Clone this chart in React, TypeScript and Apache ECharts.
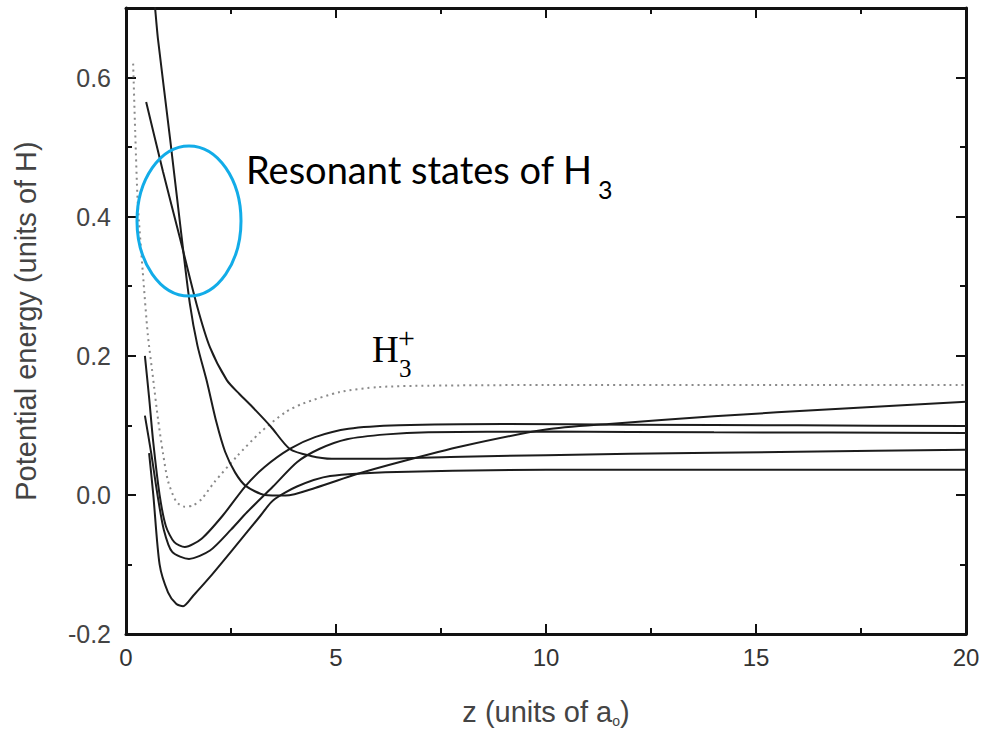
import React, { useEffect, useRef } from "react";
import * as echarts from "echarts";

// ---- data ----
const xTicks = [0, 5, 10, 15, 20];
const yTicks = [-0.2, 0.0, 0.2, 0.4, 0.6];

// H3+ (dotted)
const h3pZ = [0.17, 0.22, 0.28, 0.4, 0.52, 0.64, 0.76, 0.88, 1.0, 1.2, 1.4, 1.6, 1.8, 2.1, 2.65, 3.2, 3.8, 4.2, 5.1, 6.0, 7.2, 10, 15, 20];
const h3pV = [0.62, 0.52, 0.42, 0.32, 0.23, 0.17, 0.11, 0.06, 0.02, -0.01, -0.017, -0.015, -0.006, 0.018, 0.056, 0.09, 0.119, 0.131, 0.148, 0.155, 0.157, 0.158, 0.158, 0.158];

// steep resonant curve (ends rising)
const tZ = [0.62, 0.69, 0.76, 1.05, 1.33, 1.52, 1.7, 1.93, 2.15, 2.36, 2.6, 2.85, 3.3, 3.8, 4.5, 5.5, 6.5, 8, 10, 11.5, 14, 17, 20];
const tV = [0.75, 0.702, 0.656, 0.512, 0.368, 0.275, 0.215, 0.162, 0.105, 0.062, 0.032, 0.013, 0.0, -0.001, 0.01, 0.03, 0.047, 0.07, 0.094, 0.102, 0.113, 0.124, 0.134];

// second resonant curve (with shoulder)
const uZ = [0.48, 0.88, 1.29, 1.69, 2.0, 2.4, 2.7, 3.0, 3.45, 3.9, 4.4, 4.9, 6, 8, 12, 16, 20];
const uV = [0.565, 0.465, 0.368, 0.272, 0.212, 0.165, 0.145, 0.127, 0.098, 0.066, 0.056, 0.052, 0.052, 0.055, 0.059, 0.062, 0.065];

// bound curves
const l1Z = [0.45, 0.55, 0.65, 0.8, 0.95, 1.15, 1.4, 1.8, 2.3, 2.85, 3.3, 3.9, 4.5, 5.3, 6.5, 9, 12, 16, 20];
const l1V = [0.2, 0.14, 0.075, 0.0, -0.045, -0.068, -0.075, -0.063, -0.03, 0.013, 0.04, 0.066, 0.083, 0.095, 0.1, 0.102, 0.101, 0.1, 0.099];

const l2Z = [0.45, 0.6, 0.75, 0.9, 1.1, 1.5, 2.0, 2.5, 2.88, 3.5, 4.07, 4.6, 5.26, 6.2, 7.2, 10, 14, 20];
const l2V = [0.114, 0.06, 0.0, -0.05, -0.082, -0.092, -0.08, -0.05, -0.025, 0.012, 0.047, 0.066, 0.08, 0.087, 0.09, 0.091, 0.09, 0.089];

const l3Z = [0.55, 0.65, 0.8, 1.0, 1.2, 1.36, 1.6, 2.0, 2.55, 3.2, 3.5, 4.07, 4.86, 6.45, 10, 15, 20];
const l3V = [0.06, 0.0, -0.1, -0.14, -0.157, -0.16, -0.145, -0.118, -0.078, -0.03, -0.008, 0.012, 0.027, 0.033, 0.036, 0.036, 0.036];

const pairs = (z: number[], v: number[]) => z.map((x, i) => [x, v[i]]);

const axisFont = '"Liberation Sans", Arial, sans-serif';

export default function App() {
  const ref = useRef<HTMLDivElement>(null);
  useEffect(() => {
    if (!ref.current) return;
    const chart = echarts.init(ref.current, null, { renderer: "svg" });
    const solid = (name: string, z: number[], v: number[]) => ({
      name,
      type: "line",
      data: pairs(z, v),
      showSymbol: false,
      smooth: 0.25,
      lineStyle: { color: "#1c1c1c", width: 2 },
      clip: true,
    });
    const axisLine = { show: true, onZero: false, lineStyle: { color: "#111", width: 3 } };
    const tick = { show: true, inside: true, length: 10, lineStyle: { color: "#111", width: 2 } };
    const minor = { show: true, splitNumber: 2, length: 6, lineStyle: { color: "#111", width: 2 } };
    chart.setOption({
      animation: false,
      backgroundColor: "#fff",
      grid: { left: 126, right: 17, top: 8, bottom: 98, containLabel: false },
      xAxis: [
        {
          type: "value",
          min: 0,
          max: 20,
          interval: 5,
          axisLine,
          axisTick: tick,
          minorTick: minor,
          splitLine: { show: false },
          axisLabel: {
            margin: 11,
            fontSize: 24,
            color: "#333",
            fontFamily: axisFont,
            formatter: (v: number) => (xTicks.includes(v) ? String(v) : ""),
          },
          name: "z (units of a{sub|o})",
          nameLocation: "middle",
          nameGap: 62,
          nameTextStyle: {
            fontSize: 29,
            color: "#444",
            fontFamily: axisFont,
            rich: { sub: { fontSize: 14, color: "#444", fontFamily: axisFont, padding: [18, 0, 0, 0] } },
          },
        },
        {
          type: "value",
          position: "top",
          min: 0,
          max: 20,
          interval: 5,
          axisLine,
          axisTick: tick,
          minorTick: minor,
          splitLine: { show: false },
          axisLabel: { show: false },
        },
      ],
      yAxis: [
        {
          type: "value",
          min: -0.2,
          max: 0.7,
          interval: 0.2,
          axisLine,
          axisTick: tick,
          minorTick: minor,
          splitLine: { show: false },
          axisLabel: {
            margin: 15,
            fontSize: 25,
            color: "#444",
            fontFamily: axisFont,
            formatter: (v: number) => {
              const hit = yTicks.find((t) => Math.abs(t - v) < 1e-6);
              return hit === undefined ? "" : hit.toFixed(1);
            },
          },
          name: "Potential energy (units of H)",
          nameLocation: "middle",
          nameGap: 86,
          nameTextStyle: { fontSize: 29, color: "#444", fontFamily: axisFont },
        },
        {
          type: "value",
          position: "right",
          min: -0.2,
          max: 0.7,
          interval: 0.2,
          axisLine,
          axisTick: tick,
          minorTick: minor,
          splitLine: { show: false },
          axisLabel: { show: false },
        },
      ],
      series: [
        {
          name: "H3+",
          type: "line",
          data: pairs(h3pZ, h3pV),
          showSymbol: false,
          smooth: 0.25,
          clip: true,
          lineStyle: { color: "#8a8a8a", width: 2, type: [2, 4] },
        },
        solid("resonant A", tZ, tV),
        solid("resonant B", uZ, uV),
        solid("bound 1", l1Z, l1V),
        solid("bound 2", l2Z, l2V),
        solid("bound 3", l3Z, l3V),
      ],
      graphic: [
        {
          type: "ellipse",
          shape: { cx: 189, cy: 221, rx: 52, ry: 75 },
          style: { fill: "none", stroke: "#12ace8", lineWidth: 3 },
          z: 100,
        },
        {
          type: "text",
          left: 246,
          top: 150,
          style: { text: "Resonant states of H", font: '38px Lato, "Open Sans", sans-serif', fill: "#000" },
          z: 100,
        },
        {
          type: "text",
          left: 598,
          top: 176,
          style: { text: "3", font: '25px Lato, "Open Sans", sans-serif', fill: "#000" },
          z: 100,
        },
        {
          type: "text",
          left: 372,
          top: 331,
          style: { text: "H", font: '37px "Liberation Serif", "DejaVu Serif", serif', fill: "#000" },
          z: 100,
        },
        {
          type: "text",
          left: 399,
          top: 356,
          style: { text: "3", font: '25px "Liberation Serif", "DejaVu Serif", serif', fill: "#000" },
          z: 100,
        },
        {
          type: "text",
          left: 398,
          top: 322,
          style: { text: "+", font: '30px "Liberation Serif", "DejaVu Serif", serif', fill: "#000" },
          z: 100,
        },
      ],
    });
    return () => chart.dispose();
  }, []);
  return <div ref={ref} style={{ position: "absolute", left: 0, top: 0, width: 983, height: 733 }} />;
}
